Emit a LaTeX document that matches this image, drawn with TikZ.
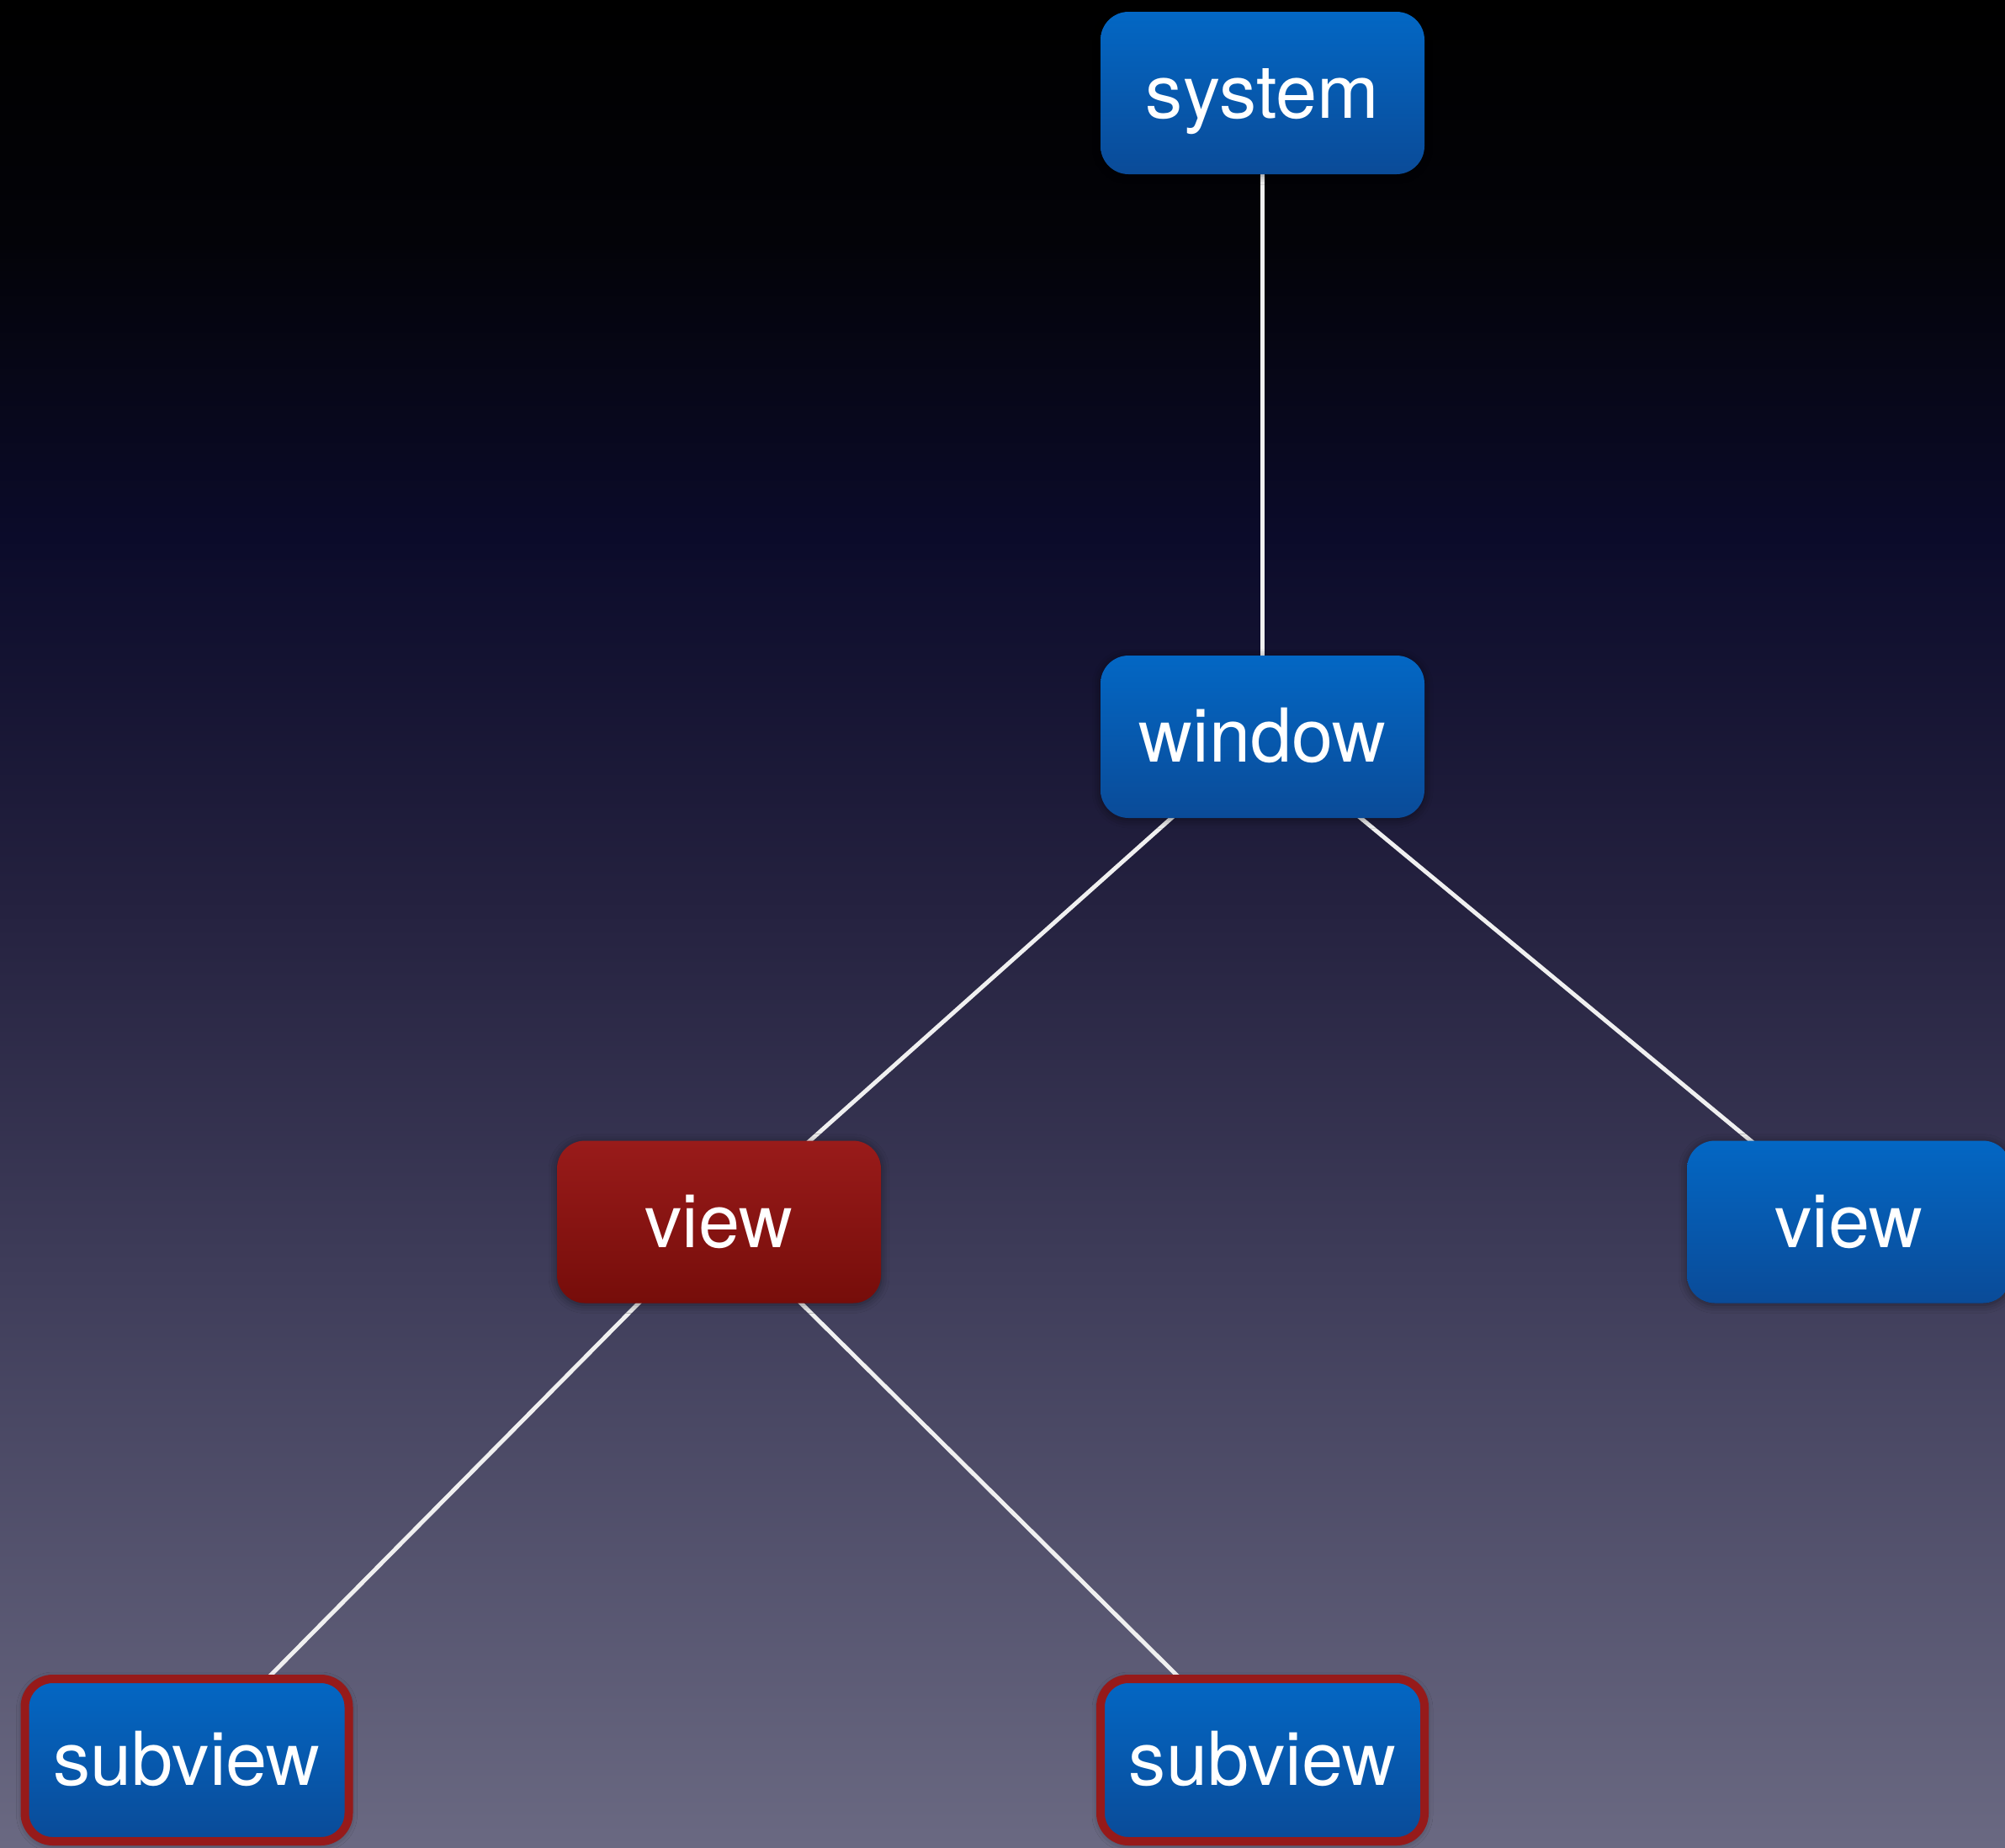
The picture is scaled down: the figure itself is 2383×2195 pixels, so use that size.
\documentclass[tikz,border=0pt]{standalone}
\usepackage{fontspec}
\setmainfont{TeX Gyre Heros}
\usetikzlibrary{shadows.blur}
\definecolor{bgA}{HTML}{6A6982}
\definecolor{bgB}{HTML}{3F3D5A}
\definecolor{bgC}{HTML}{24213F}
\definecolor{bgD}{HTML}{0B0B2A}
\definecolor{bgE}{HTML}{030308}
\definecolor{bgF}{HTML}{000000}
\definecolor{blueTop}{HTML}{0367C4}
\definecolor{blueBot}{HTML}{0A4B98}
\definecolor{redTop}{HTML}{991B1A}
\definecolor{redBot}{HTML}{760D0A}
\definecolor{redRim}{HTML}{961A1A}
\pgfdeclareverticalshading{bgshade}{100bp}{color(0bp)=(bgA); color(25bp)=(bgA); color(40.4bp)=(bgB); color(50.7bp)=(bgC); color(60.5bp)=(bgD); color(68.5bp)=(bgE); color(75bp)=(bgF); color(100bp)=(bgF)}
\tikzset{
  box/.style={rectangle, rounded corners=10pt, minimum width=115.5pt, minimum height=57.9pt, inner sep=0pt,
    text=white, font=\fontsize{26.5}{30}\selectfont, text height=18pt, text depth=0pt,
    blur shadow={shadow xshift=0pt, shadow yshift=-0.6pt, shadow blur radius=3pt, shadow opacity=45}},
  bluebox/.style={box, top color=blueTop, bottom color=blueBot},
  redbox/.style={box, top color=redTop, bottom color=redBot},
  rimbox/.style={bluebox, draw=redRim, line width=3pt},
  link/.style={draw=white!94!black, line width=1.5pt}
}
\begin{document}
\begin{tikzpicture}[x=0.3pt, y=-0.3pt]
\useasboundingbox (0,0) rectangle (2383,2195);
\clip (0,0) rectangle (2383,2195);
\shade[shading=bgshade] (0,0) rectangle (2383,2195);
\coordinate (csys) at (1500.5,110.5);
\coordinate (cwin) at (1500.5,875.5);
\coordinate (cvr) at (854.5,1452);
\coordinate (cvb) at (2197.5,1452);
\coordinate (csl) at (222,2091.5);
\coordinate (csm) at (1500.5,2091.5);
\path[link] (csys) -- (cwin);
\path[link] (cwin) -- (cvr);
\path[link] (cwin) -- (cvb);
\path[link] (cvr) -- (csl);
\path[link] (cvr) -- (csm);
\node[bluebox] (system) at (csys) {system};
\node[bluebox] (window) at (cwin) {window};
\node[redbox] (viewred) at (cvr) {view};
\node[bluebox] (viewblue) at (cvb) {view};
\node[rimbox] (subleft) at (csl) {subview};
\node[rimbox] (submid) at (csm) {subview};
\end{tikzpicture}
\end{document}
